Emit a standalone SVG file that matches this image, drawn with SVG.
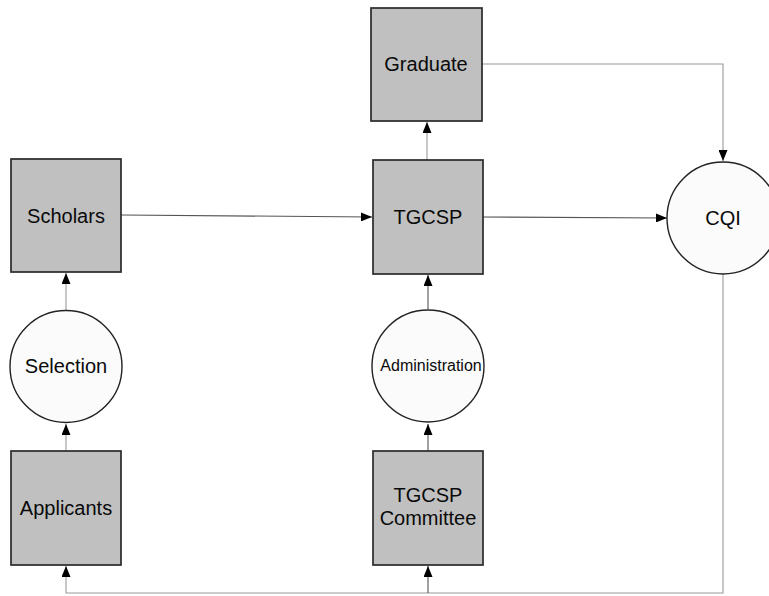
<svg xmlns="http://www.w3.org/2000/svg" width="769" height="596" viewBox="0 0 769 596">
<style>
.box{fill:#c0c0c0;stroke:#2a2a2a;stroke-width:1.7}
.circ{fill:#fbfbfb;stroke:#222;stroke-width:1.4}
.lbl{font-family:"Liberation Sans",Arial,sans-serif;font-size:20px;fill:#0a0a0a;text-anchor:middle}
.con{fill:none;stroke:#9a9a9a;stroke-width:1.1}
.dk{stroke:#555}
</style>
<defs>
<marker id="ah" viewBox="0 0 11 9" refX="11" refY="4.5" markerWidth="11" markerHeight="9" markerUnits="userSpaceOnUse" orient="auto">
<path d="M0,0 L11,4.5 L0,9 z" fill="#000"/>
</marker>
</defs>
<rect width="769" height="596" fill="#fff"/>
<g id="connectors">
<path class="con" d="M66,451 L66,424" marker-end="url(#ah)"/>
<path class="con" d="M66,310 L66,273" marker-end="url(#ah)"/>
<path class="con dk" d="M121,215 L372,217" marker-end="url(#ah)"/>
<path class="con dk" d="M428,451 L428,424" marker-end="url(#ah)"/>
<path class="con dk" d="M428,309 L428,275" marker-end="url(#ah)"/>
<path class="con" d="M427,160 L427,122" marker-end="url(#ah)"/>
<path class="con dk" d="M483,217 L667,218" marker-end="url(#ah)"/>
<path class="con" d="M482,64 L723,64 L723,161" marker-end="url(#ah)"/>
<path class="con" d="M723,274 L723,593 L66,593 L66,566" marker-end="url(#ah)"/>
<path class="con dk" d="M428,593 L428,566" marker-end="url(#ah)"/>
</g>
<g id="scholars">
<rect class="box" x="11" y="159" width="110" height="113"/>
<text class="lbl" x="66" y="223">Scholars</text>
</g>
<g id="selection">
<circle class="circ" cx="66" cy="366.5" r="56"/>
<text class="lbl" x="66" y="373">Selection</text>
</g>
<g id="applicants">
<rect class="box" x="11" y="451" width="110" height="114"/>
<text class="lbl" x="66" y="515">Applicants</text>
</g>
<g id="graduate">
<rect class="box" x="371" y="8" width="111" height="113"/>
<text class="lbl" x="426" y="71">Graduate</text>
</g>
<g id="tgcsp">
<rect class="box" x="373" y="160" width="110" height="114"/>
<text class="lbl" x="428" y="224">TGCSP</text>
</g>
<g id="administration">
<circle class="circ" cx="428" cy="366" r="56"/>
<text class="lbl" x="431" y="371" style="font-size:16px">Administration</text>
</g>
<g id="tgcsp-committee">
<rect class="box" x="373" y="451" width="110" height="114"/>
<text class="lbl" x="428" y="502">TGCSP</text>
<text class="lbl" x="428" y="525">Committee</text>
</g>
<g id="cqi">
<circle class="circ" cx="723" cy="218" r="56"/>
<text class="lbl" x="723" y="225">CQI</text>
</g>
</svg>
